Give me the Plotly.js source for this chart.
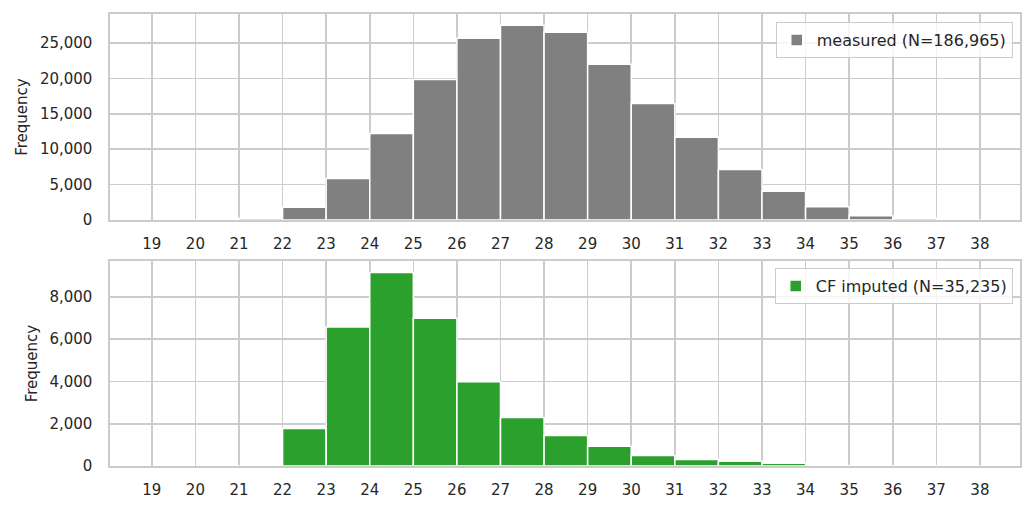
<!DOCTYPE html>
<html>
<head>
<meta charset="utf-8">
<script src="https://cdn.plot.ly/plotly-3.0.1.min.js"></script>
<style>
  html, body { margin: 0; padding: 0; background: #fff; }
  #chart { width: 1035px; height: 511px; }
</style>
</head>
<body>
<div id="chart"></div>
<script>
// bins are [k, k+1)
const binsMeasured = [20, 21, 22, 23, 24, 25, 26, 27, 28, 29, 30, 31, 32, 33, 34, 35, 36, 37];
const countsMeasured = [15, 236, 1790, 5870, 12220, 19860, 25670, 27510, 26520, 21990, 16470, 11680, 7120, 4057, 1887, 613, 236, 20];

const binsImputed = [21, 22, 23, 24, 25, 26, 27, 28, 29, 30, 31, 32, 33, 34, 35, 36, 37];
const countsImputed = [5, 1773, 6573, 9161, 6996, 3984, 2290, 1443, 937, 500, 312, 219, 125, 10, 3, 2, 2];

const xTicks = [19, 20, 21, 22, 23, 24, 25, 26, 27, 28, 29, 30, 31, 32, 33, 34, 35, 36, 37, 38];

const C = { grid: "#cccccc", text: "#262626", gray: "#808080", green: "#2ca02c" };
const FONT = { family: "DejaVu Sans, sans-serif", size: 15, color: C.text };

const XA = {
    range: [18.04, 38.92], tickvals: xTicks, ticktext: xTicks.map(String),
    showgrid: true, gridcolor: C.grid, gridwidth: 1.6,
    showline: true, linecolor: C.grid, linewidth: 1.6, mirror: true,
    zeroline: false, ticks: "", ticklabelstandoff: 9, tickfont: FONT
};
const YA = {
    showgrid: true, gridcolor: C.grid, gridwidth: 1.6,
    showline: true, linecolor: C.grid, linewidth: 1.6, mirror: true,
    zeroline: false, ticks: "", tickformat: ",d", ticklabelstandoff: 13, tickfont: FONT,
    title: { text: "Frequency", font: { ...FONT, size: 15 }, standoff: 8 }
};

const traces = [
    {
        x: binsMeasured, y: countsMeasured, type: "bar", width: 1, offset: 0,
        name: "measured (N=186,965)", xaxis: "x", yaxis: "y", legend: "legend",
        marker: { color: C.gray, line: { color: "#ffffff", width: 1.5 } }
    },
    {
        x: binsImputed, y: countsImputed, type: "bar", width: 1, offset: 0,
        name: "CF imputed (N=35,235)", xaxis: "x2", yaxis: "y2", legend: "legend2",
        marker: { color: C.green, line: { color: "#ffffff", width: 1.5 } }
    }
];

const LEG = {
    xanchor: "right", yanchor: "top", x: 0.992,
    bgcolor: "rgba(255,255,255,0.8)", bordercolor: C.grid, borderwidth: 1,
    font: { ...FONT, size: 16 }, itemwidth: 30
};

const layout = {
    width: 1035, height: 511,
    paper_bgcolor: "#ffffff", plot_bgcolor: "#ffffff",
    font: FONT,
    margin: { l: 110, r: 15, t: 14, b: 45 },
    bargap: 0,
    showlegend: true,
    xaxis: { ...XA, domain: [0, 1], anchor: "y" },
    yaxis: { ...YA, domain: [0.5442, 1], range: [0, 29100], dtick: 5000, anchor: "x" },
    xaxis2: { ...XA, domain: [0, 1], anchor: "y2" },
    yaxis2: { ...YA, domain: [0, 0.4535], range: [0, 9700], dtick: 2000, anchor: "x2" },
    legend: { ...LEG, y: 0.982 },
    legend2: { ...LEG, y: 0.438 }
};

Plotly.newPlot("chart", traces, layout, { displayModeBar: false, staticPlot: true });
</script>
</body>
</html>
